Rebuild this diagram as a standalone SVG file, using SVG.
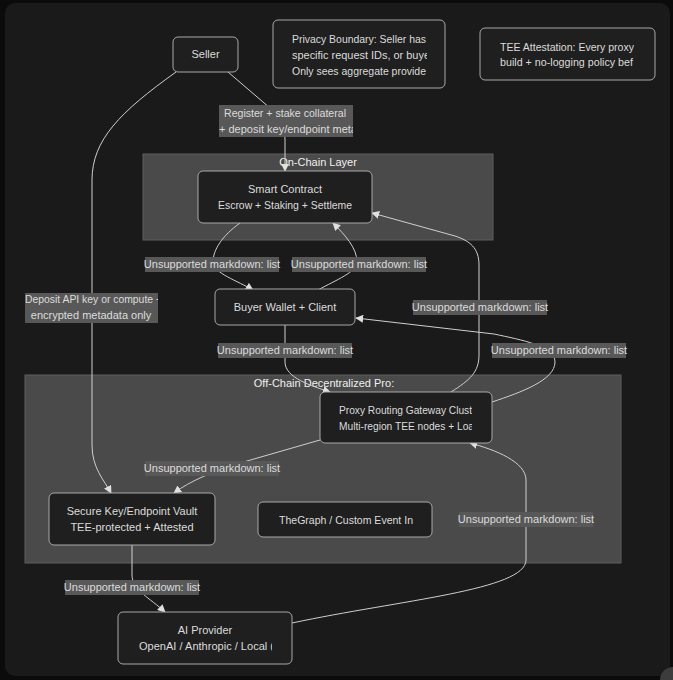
<svg xmlns="http://www.w3.org/2000/svg" width="673" height="680" viewBox="0 0 673 680">
<style>
text{font-family:"Liberation Sans",Arial,sans-serif;font-size:11px;fill:#dcdcdc}
.c{text-anchor:middle}
.node rect{fill:#1f1f1f;stroke:#a8a8a8;stroke-width:1}
.cluster rect{fill:#4a4a4a;stroke:#5e5e5e;stroke-width:1}
.edge{fill:none;stroke:#cfcfcf;stroke-width:1}
.lbl rect{fill:#585858}
.title{fill:#f0f0f0}
</style>
<defs>
<marker id="ah" viewBox="0 0 10 10" refX="9" refY="5" markerWidth="8" markerHeight="8" markerUnits="userSpaceOnUse" orient="auto">
<path d="M0,0 L10,5 L0,10 z" fill="#e0e0e0"/>
</marker>
<clipPath id="cpPriv"><rect x="290" y="20" width="137" height="68"/></clipPath>
<clipPath id="cpTee"><rect x="498" y="28" width="136" height="52"/></clipPath>
<clipPath id="cpSC"><rect x="216" y="171" width="137" height="52"/></clipPath>
<clipPath id="cpReg"><rect x="219" y="105" width="134" height="32"/></clipPath>
<clipPath id="cpDep"><rect x="25" y="293" width="133" height="30"/></clipPath>
<clipPath id="cpProxy"><rect x="337" y="392" width="135" height="51"/></clipPath>
<clipPath id="cpGraph"><rect x="277" y="502" width="137" height="35"/></clipPath>
<clipPath id="cpAI"><rect x="137" y="612" width="135" height="52"/></clipPath>
</defs>
<rect x="0" y="0" width="673" height="680" fill="#0b0b0b"/>
<rect x="5" y="3" width="665" height="673" rx="10" fill="#1a1a1a"/>
<circle cx="673" cy="680" r="13" fill="#3c3c3c"/>

<g id="clusters">
<g id="onchain" class="cluster">
<rect x="143" y="154" width="350" height="86"/>
<text class="c title" x="318" y="166">On-Chain Layer</text>
</g>
<g id="offchain" class="cluster">
<rect x="25" y="375" width="596" height="188"/>
<text class="c title" x="324" y="387">Off-Chain Decentralized Pro:</text>
</g>
</g>

<g id="connectors">
<path class="edge" d="M228,72 L270,108 C280,118 285,128 285,140 L285,171" marker-end="url(#ah)"/>
<path class="edge" d="M176,72 C120,112 92,140 92,180 L92,445 C92,468 104,480 111,493" marker-end="url(#ah)"/>
<path class="edge" d="M240,223 C222,236 213,250 213,262 C213,273 238,281 253,290" marker-end="url(#ah)"/>
<path class="edge" d="M318,290 C336,280 357,272 357,262 C357,248 345,235 333,223" marker-end="url(#ah)"/>
<path class="edge" d="M285,325 L285,362 C285,378 312,386 330,392" marker-end="url(#ah)"/>
<path class="edge" d="M451,392 C470,380 479,372 479,355 L479,265 C479,248 470,241 455,236 L372,213" marker-end="url(#ah)"/>
<path class="edge" d="M492,402 C522,392 555,380 555,362 C555,346 522,340 494,334 L356,318" marker-end="url(#ah)"/>
<path class="edge" d="M320,440 L240,463 C214,471 190,481 174,493" marker-end="url(#ah)"/>
<path class="edge" d="M132,545 L132,575 C132,590 150,598 165,612" marker-end="url(#ah)"/>
<path class="edge" d="M292,623 C400,600 526,590 526,560 L526,480 C526,462 496,450 470,443" marker-end="url(#ah)"/>
</g>

<g id="edge-labels">
<g class="lbl"><rect x="219" y="105" width="134" height="32"/>
<g clip-path="url(#cpReg)"><text x="224" y="117" textLength="122" lengthAdjust="spacingAndGlyphs">Register + stake collateral</text><text x="219" y="133" textLength="138" lengthAdjust="spacingAndGlyphs">+ deposit key/endpoint meta</text></g></g>
<g class="lbl"><rect x="25" y="293" width="133" height="30"/>
<g clip-path="url(#cpDep)"><text x="25" y="303" textLength="137" lengthAdjust="spacingAndGlyphs">Deposit API key or compute +</text><text class="c" x="91" y="319">encrypted metadata only</text></g></g>
<g class="lbl"><rect x="145" y="257" width="134" height="15"/><text class="c" x="212" y="268">Unsupported markdown: list</text></g>
<g class="lbl"><rect x="292" y="257" width="134" height="15"/><text class="c" x="359" y="268">Unsupported markdown: list</text></g>
<g class="lbl"><rect x="413" y="300" width="134" height="15"/><text class="c" x="480" y="311">Unsupported markdown: list</text></g>
<g class="lbl"><rect x="218" y="343" width="134" height="15"/><text class="c" x="285" y="354">Unsupported markdown: list</text></g>
<g class="lbl"><rect x="492" y="343" width="134" height="15"/><text class="c" x="559" y="354">Unsupported markdown: list</text></g>
<g class="lbl"><rect x="145" y="461" width="134" height="15"/><text class="c" x="212" y="472">Unsupported markdown: list</text></g>
<g class="lbl"><rect x="459" y="512" width="134" height="15"/><text class="c" x="526" y="523">Unsupported markdown: list</text></g>
<g class="lbl"><rect x="65" y="580" width="134" height="15"/><text class="c" x="132" y="591">Unsupported markdown: list</text></g>
</g>

<g id="seller" class="node"><rect x="173" y="37" width="65" height="35" rx="5"/><text class="c" x="205.5" y="58">Seller</text></g>
<g id="privacy" class="node"><rect x="273" y="20" width="172" height="68" rx="5"/>
<g clip-path="url(#cpPriv)"><text x="292" y="43" textLength="134" lengthAdjust="spacingAndGlyphs">Privacy Boundary: Seller has</text><text x="292" y="59" textLength="138" lengthAdjust="spacingAndGlyphs">specific request IDs, or buye</text><text x="292" y="75" textLength="134" lengthAdjust="spacingAndGlyphs">Only sees aggregate provide</text></g></g>
<g id="tee" class="node"><rect x="480" y="28" width="175" height="52" rx="5"/>
<g clip-path="url(#cpTee)"><text x="500" y="51" textLength="134" lengthAdjust="spacingAndGlyphs">TEE Attestation: Every proxy</text><text x="500" y="66" textLength="133" lengthAdjust="spacingAndGlyphs">build + no-logging policy bef</text></g></g>
<g id="smartcontract" class="node"><rect x="198" y="171" width="174" height="52" rx="5"/>
<text class="c" x="285" y="193">Smart Contract</text>
<g clip-path="url(#cpSC)"><text x="218" y="209" textLength="134" lengthAdjust="spacingAndGlyphs">Escrow + Staking + Settleme</text></g></g>
<g id="buyer" class="node"><rect x="215" y="289" width="140" height="36" rx="5"/><text class="c" x="285" y="311">Buyer Wallet + Client</text></g>
<g id="proxy" class="node"><rect x="320" y="392" width="172" height="51" rx="5"/>
<g clip-path="url(#cpProxy)"><text x="339" y="414" textLength="133" lengthAdjust="spacingAndGlyphs">Proxy Routing Gateway Clust</text><text x="339" y="430" textLength="135" lengthAdjust="spacingAndGlyphs">Multi-region TEE nodes + Loa</text></g></g>
<g id="vault" class="node"><rect x="49" y="493" width="166" height="52" rx="5"/>
<text class="c" x="132" y="515">Secure Key/Endpoint Vault</text><text class="c" x="132" y="531">TEE-protected + Attested</text></g>
<g id="thegraph" class="node"><rect x="258" y="502" width="174" height="35" rx="5"/>
<g clip-path="url(#cpGraph)"><text x="279" y="524" textLength="134" lengthAdjust="spacingAndGlyphs">TheGraph / Custom Event In</text></g></g>
<g id="aiprovider" class="node"><rect x="118" y="612" width="174" height="52" rx="5"/>
<text class="c" x="205" y="634">AI Provider</text>
<g clip-path="url(#cpAI)"><text x="139" y="650" textLength="135" lengthAdjust="spacingAndGlyphs">OpenAI / Anthropic / Local (</text></g></g>
</svg>
